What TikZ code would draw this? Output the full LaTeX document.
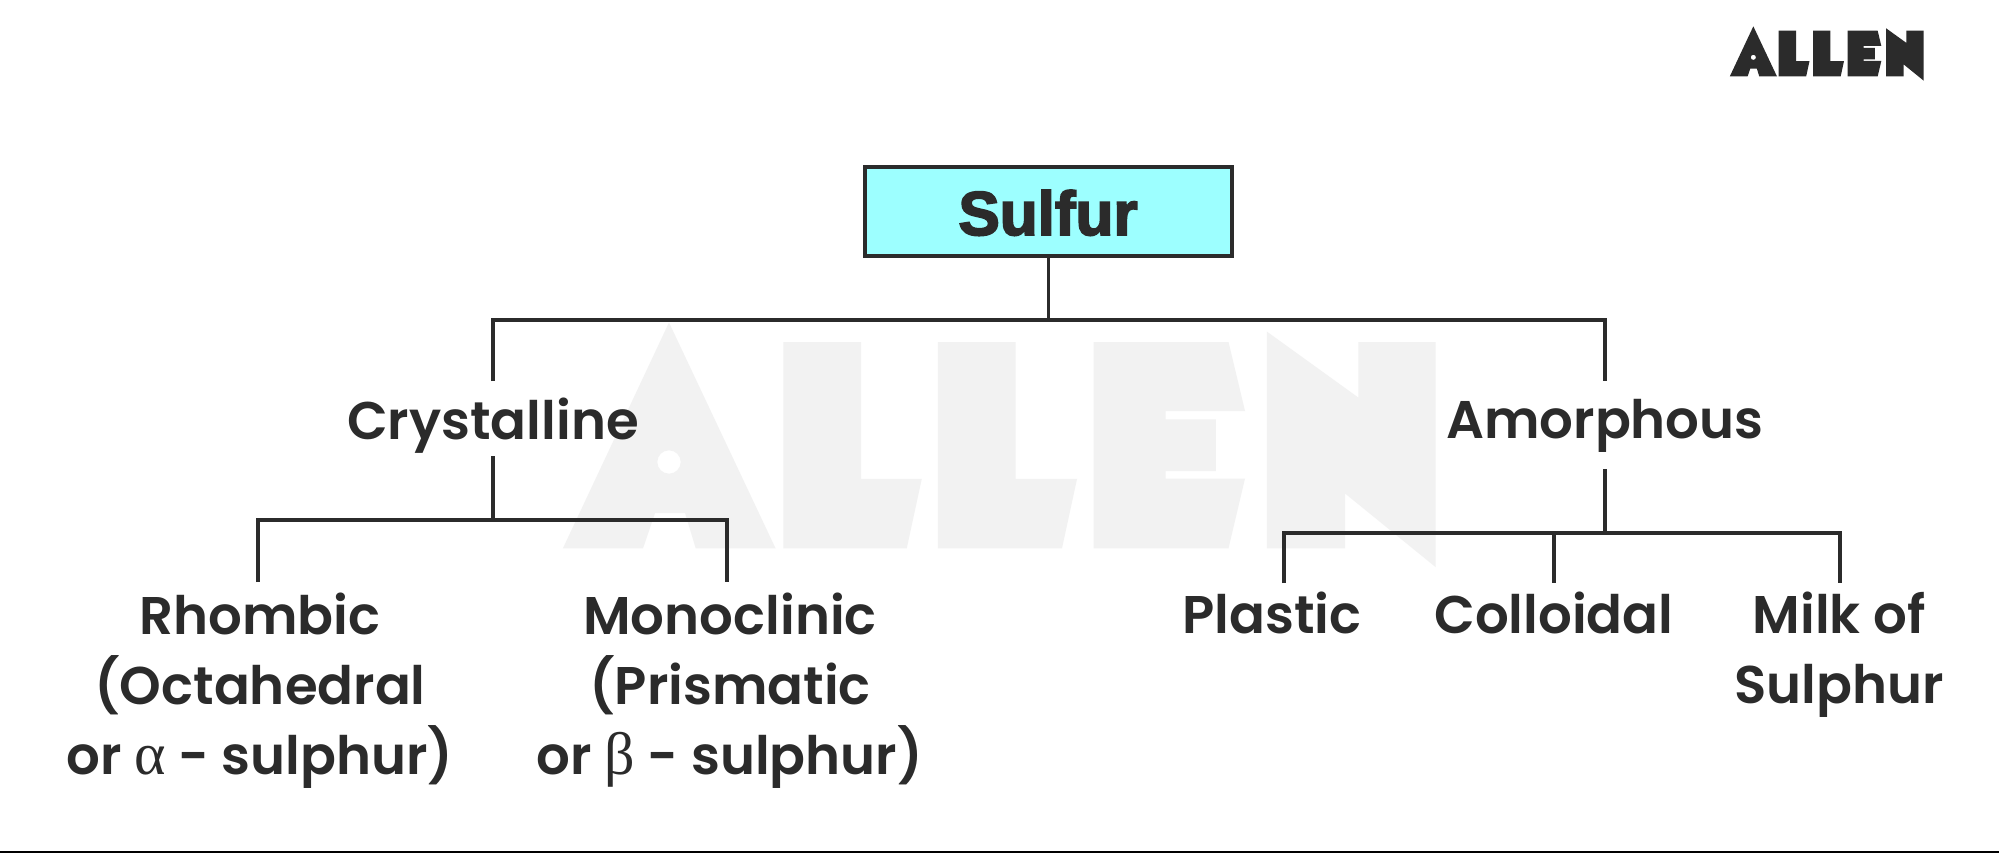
\documentclass[tikz,border=0pt]{standalone}
\usepackage{fontspec}
\setmainfont{Poppins SemiBold}
\newfontfamily\sulfurfont{Liberation Sans Bold}[FakeBold=3]
\newfontfamily\greekfont{Liberation Serif}
\newcommand{\greekglyph}[1]{{\greekfont\fontsize{60}{70}\selectfont #1}}
\definecolor{ink}{HTML}{2B2B2B}
\definecolor{mark}{HTML}{F2F2F2}
\definecolor{cyanfill}{HTML}{9DFFFF}
\newcommand{\allenshape}[1]{%
  \path[fill=#1,even odd rule] (239.3,229.5) -- (310,79) -- (381,229.5) -- (327.8,229.5) -- (320.7,206) -- (300.7,206) -- (292.7,229.5) -- cycle
    (310,172) circle[radius=7.8];
  \path[fill=#1] (386.2,92) -- (438,92) -- (438,183.3) -- (478.5,183.3) -- (468.5,229.5) -- (386.2,229.5) -- cycle;
  \path[fill=#1] (489.3,92) -- (541,92) -- (541,183.3) -- (582,183.3) -- (572,229.5) -- (489.3,229.5) -- cycle;
  \path[fill=#1] (593,92) -- (683,92) -- (694,138) -- (641,138) -- (641,143.5) -- (674.5,143.5) -- (674.5,178) -- (641,178) -- (641,183) -- (694,183) -- (683,229.5) -- (593,229.5) -- cycle;
  \path[fill=#1] (708.5,85) -- (769.5,129) -- (769.5,92) -- (821,92) -- (821,242) -- (760.7,193) -- (760.7,229.5) -- (708.5,229.5) -- cycle;
}
\tikzset{
  label text/.style={inner sep=0pt,text=ink,align=center,anchor=base,font=\fontsize{53}{70}\selectfont},
  link/.style={draw=ink,line width=3.7pt,line cap=butt,line join=miter},
}
\begin{document}
\begin{tikzpicture}[x=1pt,y=-1pt]
\useasboundingbox (0,0) rectangle (1999,853);
\fill[white] (0,0) rectangle (1999,853);
\begin{scope}[shift={(204,204)},x=1.5pt,y=-1.5pt]
\allenshape{mark}
\end{scope}
\begin{scope}[shift={(1650,0)},x=0.3333pt,y=-0.3333pt]
\allenshape{ink}
\end{scope}
\fill[black] (0,850.5) rectangle (1999,853);
\node[draw=ink,line width=3.6pt,fill=cyanfill,minimum width=367pt,minimum height=89pt,inner sep=0pt] (sulfur) at (1048.5,211.5) {};
\node[anchor=base,inner sep=0pt,text=ink,font=\sulfurfont\fontsize{62}{70}\selectfont] (sulfurtext) at (1048,235) {Sulfur};
\node[label text] (crystalline) at (493,439) {Crystalline};
\node[label text] (amorphous) at (1605,438) {Amorphous};
\node[label text] (rhombic) at (260,774) {Rhombic\\(Octahedral\\or \greekglyph{α} - sulphur)};
\node[label text] (monoclinic) at (730,774) {Monoclinic\\(Prismatic\\or \greekglyph{β} - sulphur)};
\node[label text] (plastic) at (1272,633) {Plastic};
\node[label text] (colloidal) at (1554,633) {Colloidal};
\node[label text] (milk) at (1839,703) {Milk of\\Sulphur};
\coordinate (busl) at (493,320);
\coordinate (busr) at (1605,320);
\coordinate (bus) at (sulfur.south |- busl);
\coordinate (cin) at (493,381);
\coordinate (ain) at (1605,381);
\coordinate (cout) at (493,456);
\coordinate (aout) at (1605,469);
\coordinate (cbus) at (493,520);
\coordinate (abus) at (1605,533);
\coordinate (rin) at (258,582);
\coordinate (rbus) at (258,520);
\coordinate (min) at (727,582);
\coordinate (mbus) at (727,520);
\coordinate (pin) at (1284,583);
\coordinate (pbus) at (1284,533);
\coordinate (kin) at (1554,583);
\coordinate (kbus) at (1554,533);
\coordinate (sin) at (1840,583);
\coordinate (sbus) at (1840,533);
\draw[link] (sulfur.south) -- (bus);
\draw[link] (cin) -- (busl) -- (busr) -- (ain);
\draw[link] (cout) -- (cbus);
\draw[link] (rin) -- (rbus) -- (mbus) -- (min);
\draw[link] (aout) -- (abus);
\draw[link] (pin) -- (pbus) -- (sbus) -- (sin);
\draw[link] (kbus) -- (kin);
\end{tikzpicture}
\end{document}
